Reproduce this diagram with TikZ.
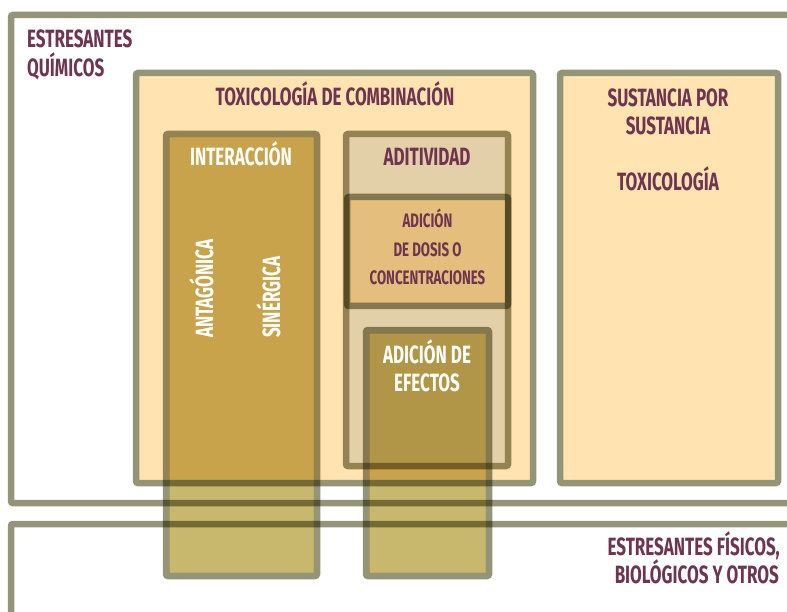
\documentclass[tikz,border=0pt]{standalone}
\usepackage{fontspec}
\setmainfont{Fira Sans}[FakeStretch=0.68]
\definecolor{edge}{RGB}{148,148,120}
\definecolor{toxbg}{RGB}{255,227,176}
\definecolor{olive}{RGB}{200,184,110}
\definecolor{adit}{RGB}{227,208,169}
\definecolor{dosis}{RGB}{228,190,124}
\definecolor{wine}{RGB}{110,52,80}
\tikzset{
  edgeline/.style={draw=edge, line width=6.5pt, rounded corners=2pt},
  mult/.style={blend mode=multiply},
  lbl/.style={inner sep=0pt, text=wine, font=\fontsize{25}{29}\selectfont\bfseries},
  wlbl/.style={lbl, text=white},
  slbl/.style={lbl, font=\fontsize{19.5}{23}\selectfont\bfseries},
}
\begin{document}
\begin{tikzpicture}[x=1pt,y=-1pt]
\useasboundingbox (0,0) rectangle (787,612);
\clip (0,0) rectangle (787,612);
\fill[white] (0,0) rectangle (787,612);
% outer boxes
\draw[edgeline] (11,15) rectangle (800,503);
\draw[edgeline] (11,524) rectangle (800,640);
% main boxes
\draw[edgeline, fill=toxbg] (136,73) rectangle (533,483);
\draw[edgeline, fill=toxbg] (560,73) rectangle (778,483);
% aditividad
\fill[adit] (349.25,137.25) rectangle (504.75,462.75);
\draw[edgeline, mult] (346,134) rectangle (508,466);
% dosis
\fill[dosis] (350.25,200.25) rectangle (504.75,302.75);
\draw[edgeline, mult] (347,197) rectangle (508,306);
% interaccion
\fill[olive, mult] (169.25,137.25) rectangle (313.75,572.75);
\draw[edgeline, mult] (166,134) rectangle (317,576);
% efectos
\fill[olive, mult] (369.25,333.25) rectangle (485.75,572.75);
\draw[edgeline, mult] (366,330) rectangle (489,576);
% labels
\node[lbl, anchor=base west] (quim1) at (27,48) {ESTRESANTES};
\node[lbl, anchor=base west] (quim2) at (27,77) {QUÍMICOS};
\node[lbl, anchor=base] (tox) at (335,106) {TOXICOLOGÍA DE COMBINACIÓN};
\node[lbl, anchor=base] (sus1) at (668,107) {SUSTANCIA POR};
\node[lbl, anchor=base] (sus2) at (668,135) {SUSTANCIA};
\node[lbl, anchor=base] (sus3) at (668,191) {TOXICOLOGÍA};
\node[wlbl, anchor=base] (inter) at (241,166) {INTERACCIÓN};
\node[lbl, anchor=base] (adit) at (427,166) {ADITIVIDAD};
\node[slbl, anchor=base] (dos1) at (427.5,228) {ADICIÓN};
\node[slbl, anchor=base] (dos2) at (427.5,257) {DE DOSIS O};
\node[slbl, anchor=base] (dos3) at (427.5,285) {CONCENTRACIONES};
\node[wlbl, anchor=base] (efe1) at (427,363) {ADICIÓN DE};
\node[wlbl, anchor=base] (efe2) at (427,391) {EFECTOS};
\node[wlbl, rotate=90, anchor=base west] (ant) at (213,338) {ANTAGÓNICA};
\node[wlbl, rotate=90, anchor=base west] (sin) at (280,338) {SINÉRGICA};
\node[lbl, anchor=base east] (fis1) at (780,555) {ESTRESANTES FÍSICOS,};
\node[lbl, anchor=base east] (fis2) at (779,583) {BIOLÓGICOS Y OTROS};
\end{tikzpicture}
\end{document}
